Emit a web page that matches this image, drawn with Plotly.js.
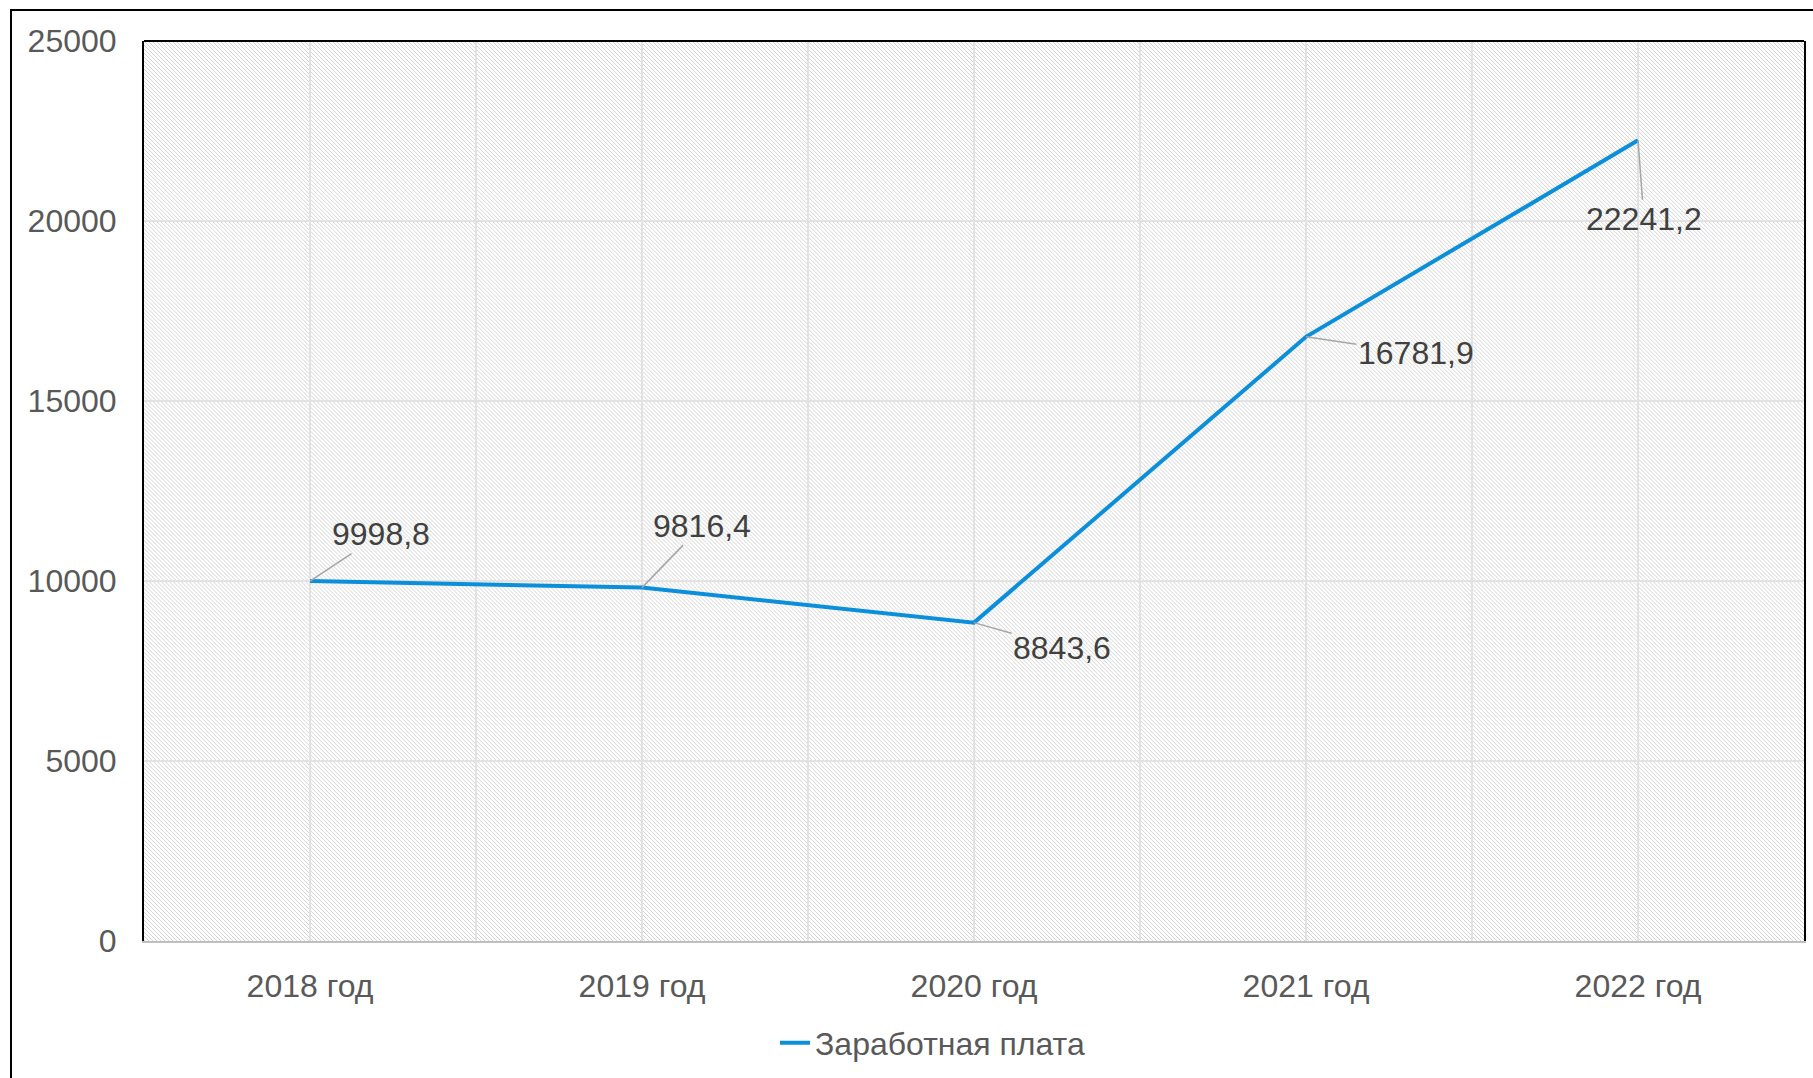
<!DOCTYPE html>
<html>
<head>
<meta charset="utf-8">
<script src="https://cdn.plot.ly/plotly-3.0.1.min.js"></script>
<style>
  html, body { margin: 0; padding: 0; background: #ffffff; }
  #wrap { position: relative; width: 1813px; height: 1078px; overflow: hidden; }
  #chart { position: absolute; left: 0; top: 0; width: 1813px; height: 1078px; }
  #frame { position: absolute; left: 10px; top: 9px; width: 1900px; height: 1200px;
           border-left: 2px solid #000; border-top: 2px solid #000; pointer-events: none; }
</style>
</head>
<body>
<div id="wrap">
  <div id="chart"></div>
  <div id="frame"></div>
</div>
<script>
// ---- data ----
var categories = ["2018 год", "2019 год", "2020 год", "2021 год", "2022 год"];
var salary = [9998.8, 9816.4, 8843.6, 16781.9, 22241.2];
var salaryLabels = ["9998,8", "9816,4", "8843,6", "16781,9", "22241,2"];
var seriesName = "Заработная плата";
var yTicks = [0, 5000, 10000, 15000, 20000, 25000];
var yTickText = ["0", "5000", "10000", "15000", "20000", "25000"];

// ---- label offsets (pixels, style only) ----
var labelOffsets = [[71, -47], [60, -62], [88, 25], [110, 16], [6, 79]];

var W = 1813, H = 1078;
var M = { l: 144, r: 9, t: 41, b: 136 };
var pw = W - M.l - M.r, ph = H - M.t - M.b;
var FONT = 'Liberation Sans, Arial, sans-serif';

// hatch pattern background for the plot area
var svg = '<svg xmlns="http://www.w3.org/2000/svg" width="' + pw + '" height="' + ph + '" viewBox="0 0 ' + pw + ' ' + ph + '">' +
  '<defs><pattern id="h" width="4" height="4" patternUnits="userSpaceOnUse">' +
  '<rect x="0" y="0" width="1" height="1" fill="#d4d4d4"/>' +
  '<rect x="1" y="1" width="1" height="1" fill="#d4d4d4"/>' +
  '<rect x="2" y="2" width="1" height="1" fill="#d4d4d4"/>' +
  '<rect x="3" y="3" width="1" height="1" fill="#d4d4d4"/>' +
  '</pattern></defs><rect width="100%" height="100%" fill="#ffffff"/><rect width="100%" height="100%" fill="url(#h)"/></svg>';
var hatchURL = 'data:image/svg+xml;charset=utf-8,' + encodeURIComponent(svg);

var xIdx = categories.map(function (c, i) { return i; });
var xBounds = categories.slice(0, -1).map(function (c, i) { return i + 0.5; });

var trace = {
  x: xIdx,
  y: salary,
  type: 'scatter',
  mode: 'lines',
  name: seriesName,
  line: { color: '#0b8fda', width: 4 },
  hoverinfo: 'skip'
};

var annotations = salary.map(function (v, i) {
  return {
    x: xIdx[i], y: v, xref: 'x', yref: 'y',
    text: salaryLabels[i],
    showarrow: true, arrowhead: 0, arrowwidth: 1.5, arrowcolor: '#a6a6a6',
    ax: labelOffsets[i][0], ay: labelOffsets[i][1],
    standoff: 0, startstandoff: 0,
    font: { family: FONT, size: 32, color: '#404040' }
  };
});

var layout = {
  width: W, height: H,
  margin: M,
  paper_bgcolor: '#ffffff',
  plot_bgcolor: 'rgba(0,0,0,0)',
  font: { family: FONT, size: 32, color: '#595959' },
  showlegend: true,
  legend: {
    orientation: 'h', x: 0.475, xanchor: 'center', y: -0.112, yanchor: 'middle',
    font: { family: FONT, size: 32, color: '#595959' }, bgcolor: 'rgba(0,0,0,0)'
  },
  xaxis: {
    range: [-0.5, 4.5],
    tickmode: 'array', tickvals: xIdx, ticktext: categories,
    showgrid: true, gridcolor: '#e2e2e2', gridwidth: 2,
    minor: { tickmode: 'array', tickvals: xBounds, showgrid: true, gridcolor: '#e2e2e2', gridwidth: 2, ticks: '' },
    zeroline: false,
    showline: true, linecolor: '#bfbfbf', linewidth: 2,
    ticks: '', ticklabelstandoff: 16,
    tickfont: { family: FONT, size: 32, color: '#595959' },
    fixedrange: true
  },
  yaxis: {
    range: [0, 25000],
    tickmode: 'array', tickvals: yTicks, ticktext: yTickText,
    showgrid: true, gridcolor: '#e2e2e2', gridwidth: 2,
    zeroline: false,
    showline: true, linecolor: '#000000', linewidth: 2, mirror: true,
    ticks: '', ticklabelstandoff: 19,
    tickfont: { family: FONT, size: 32, color: '#595959' },
    fixedrange: true
  },
  images: [{
    source: hatchURL, xref: 'paper', yref: 'paper', x: 0, y: 1,
    sizex: 1, sizey: 1, sizing: 'stretch', xanchor: 'left', yanchor: 'top', layer: 'below'
  }],
  shapes: [{
    type: 'line', xref: 'paper', yref: 'paper', x0: 0, x1: 1, y0: 1, y1: 1,
    line: { color: '#000000', width: 2 }
  }],
  annotations: annotations
};

Plotly.newPlot('chart', [trace], layout, { displayModeBar: false, staticPlot: true });
</script>
</body>
</html>
